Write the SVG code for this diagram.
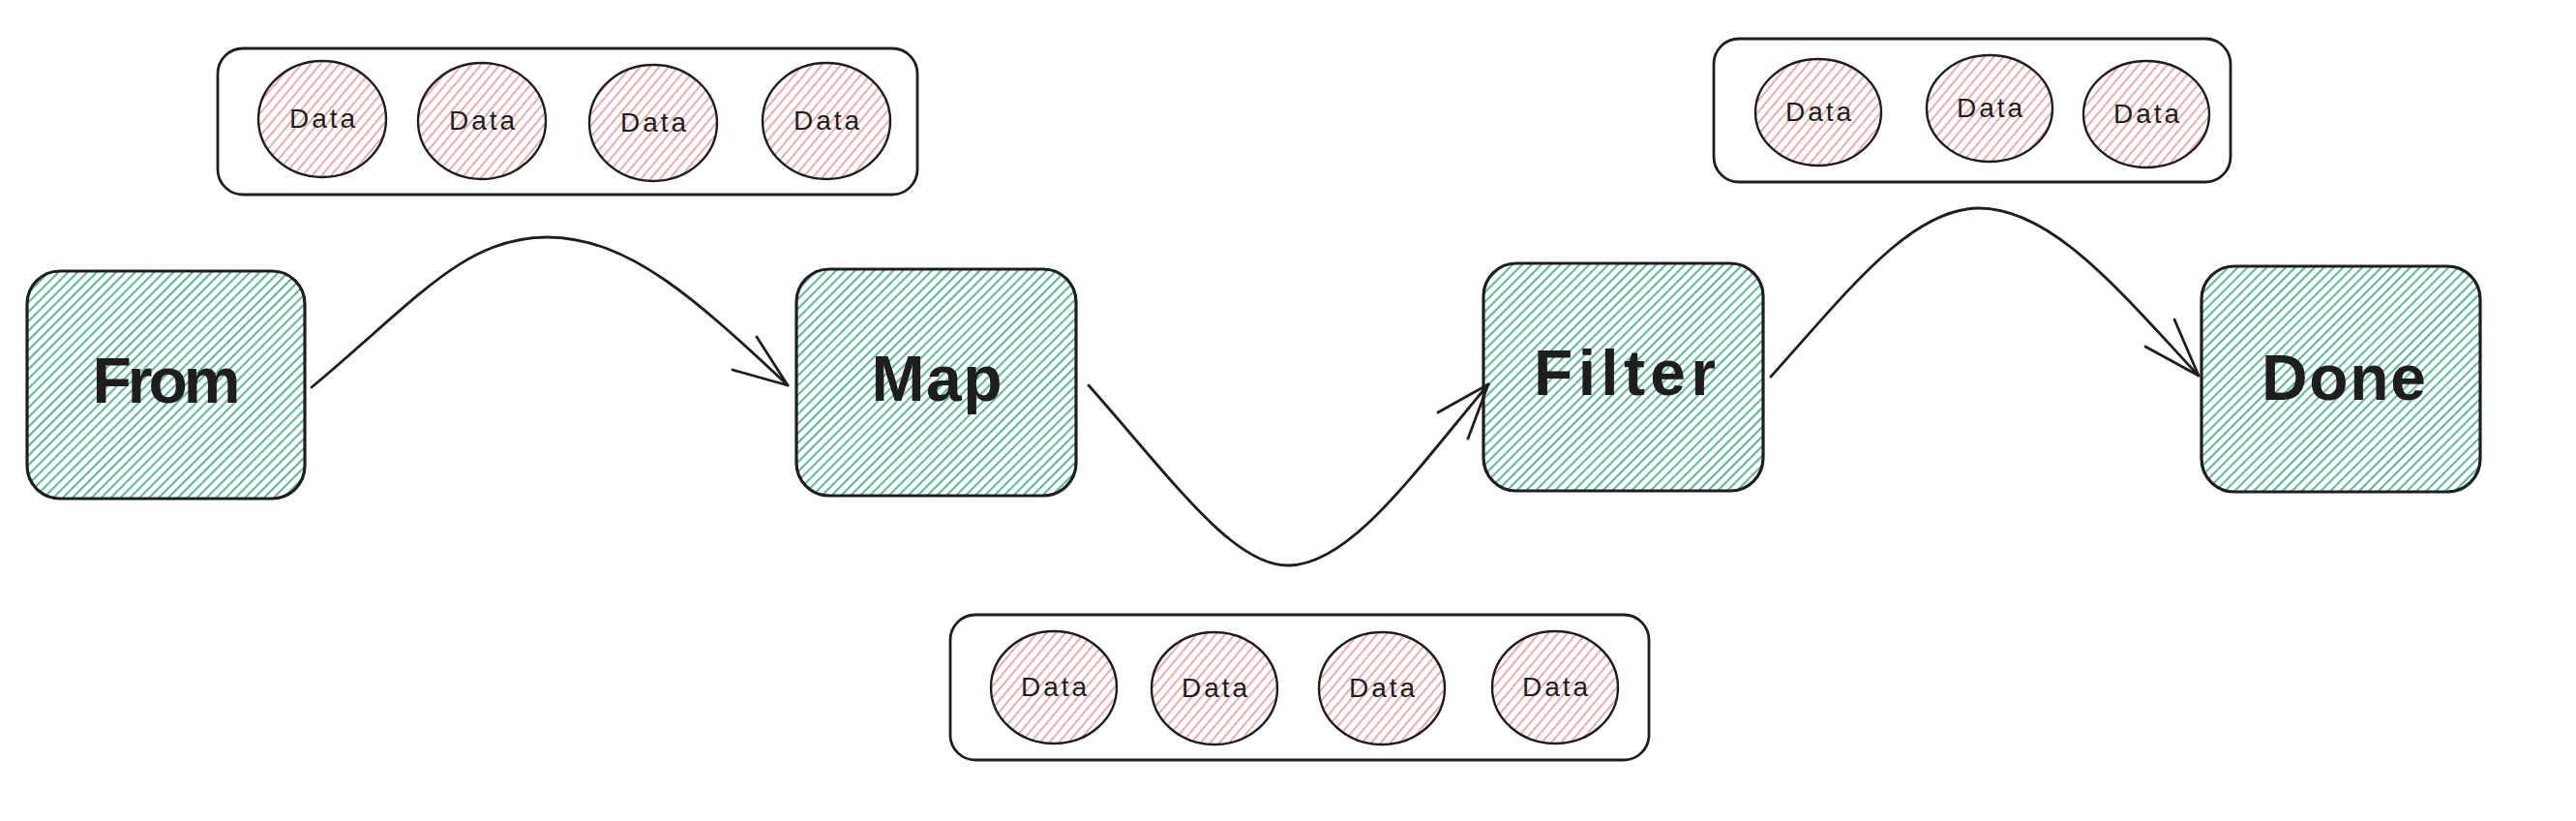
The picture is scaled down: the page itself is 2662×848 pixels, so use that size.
<svg xmlns="http://www.w3.org/2000/svg" width="2662" height="848" viewBox="0 0 2662 848">
<defs>
<pattern id="hg" patternUnits="userSpaceOnUse" width="7" height="7" patternTransform="rotate(45)">
<line x1="3.5" y1="0" x2="3.5" y2="7" stroke="#38a47d" stroke-width="1.7"/>
</pattern>
<pattern id="hr" patternUnits="userSpaceOnUse" width="7.5" height="7.5" patternTransform="rotate(40)">
<line x1="3.7" y1="0" x2="3.7" y2="7.5" stroke="#e06a6c" stroke-width="1.1"/>
</pattern>
<style>
.box{fill:url(#hg);stroke:#1e1e1e;stroke-width:3.2}
.cont{fill:none;stroke:#1e1e1e;stroke-width:2.8}
.dot{fill:url(#hr);stroke:#1e1e1e;stroke-width:2.4}
.big{font-family:"Liberation Sans",Arial,sans-serif;font-weight:bold;font-size:66px;fill:#1e1e1e;text-anchor:middle}
.small{font-family:"Liberation Sans",Arial,sans-serif;font-size:28px;fill:#1e1e1e;text-anchor:middle}
.edge{fill:none;stroke:#1e1e1e;stroke-width:2.8;stroke-linecap:round;stroke-linejoin:round}
</style>
</defs>
<rect width="2662" height="848" fill="#ffffff"/>

<g id="group-top-left">
<rect class="cont" x="225" y="50" width="723" height="151" rx="26"/>
<g id="data-tl-1"><ellipse class="dot" cx="333" cy="123" rx="66" ry="60"/><text class="small" x="333" y="132" textLength="68">Data</text></g>
<g id="data-tl-2"><ellipse class="dot" cx="498" cy="125" rx="66" ry="60"/><text class="small" x="498" y="134" textLength="68">Data</text></g>
<g id="data-tl-3"><ellipse class="dot" cx="675" cy="127" rx="66" ry="60"/><text class="small" x="675" y="136" textLength="68">Data</text></g>
<g id="data-tl-4"><ellipse class="dot" cx="854" cy="125" rx="66" ry="60"/><text class="small" x="854" y="134" textLength="68">Data</text></g>
</g>

<g id="group-bottom">
<rect class="cont" x="982" y="635" width="722" height="150" rx="26"/>
<g id="data-b-1"><ellipse class="dot" cx="1089" cy="710" rx="65" ry="58"/><text class="small" x="1089" y="719" textLength="68">Data</text></g>
<g id="data-b-2"><ellipse class="dot" cx="1255" cy="711" rx="65" ry="58"/><text class="small" x="1255" y="720" textLength="68">Data</text></g>
<g id="data-b-3"><ellipse class="dot" cx="1428" cy="711" rx="65" ry="58"/><text class="small" x="1428" y="720" textLength="68">Data</text></g>
<g id="data-b-4"><ellipse class="dot" cx="1607" cy="710" rx="65" ry="58"/><text class="small" x="1607" y="719" textLength="68">Data</text></g>
</g>

<g id="group-top-right">
<rect class="cont" x="1771" y="40" width="534" height="148" rx="26"/>
<g id="data-tr-1"><ellipse class="dot" cx="1879" cy="116" rx="65" ry="55"/><text class="small" x="1879" y="125" textLength="68">Data</text></g>
<g id="data-tr-2"><ellipse class="dot" cx="2056" cy="112" rx="65" ry="55"/><text class="small" x="2056" y="121" textLength="68">Data</text></g>
<g id="data-tr-3"><ellipse class="dot" cx="2218" cy="118" rx="65" ry="55"/><text class="small" x="2218" y="127" textLength="68">Data</text></g>
</g>

<g id="node-from">
<rect class="box" x="28" y="280" width="287" height="235" rx="34"/>
<text class="big" x="172" y="416" textLength="153">From</text>
</g>
<g id="node-map">
<rect class="box" x="823" y="278" width="289" height="234" rx="34"/>
<text class="big" x="968" y="414" textLength="135">Map</text>
</g>
<g id="node-filter">
<rect class="box" x="1533" y="272" width="289" height="235" rx="34"/>
<text class="big" x="1679" y="408" textLength="188">Filter</text>
</g>
<g id="node-done">
<rect class="box" x="2275" y="275" width="288" height="233" rx="34"/>
<text class="big" x="2422" y="413" textLength="170">Done</text>
</g>

<g id="connectors">
<path class="edge" d="M322,400 C430,310 480,245 565,245 C650,245 720,310 814,398"/>
<path class="edge" d="M782,348 L814,398 L757,382"/>
<path class="edge" d="M1125,398 C1215,500 1275,585 1332,584 C1395,583 1460,490 1538,397"/>
<path class="edge" d="M1486,426 L1538,397 L1517,453"/>
<path class="edge" d="M1830,389 C1910,300 1975,215 2045,215 C2120,215 2190,300 2272,388"/>
<path class="edge" d="M2247,330 L2272,388 L2217,358"/>
</g>
</svg>
